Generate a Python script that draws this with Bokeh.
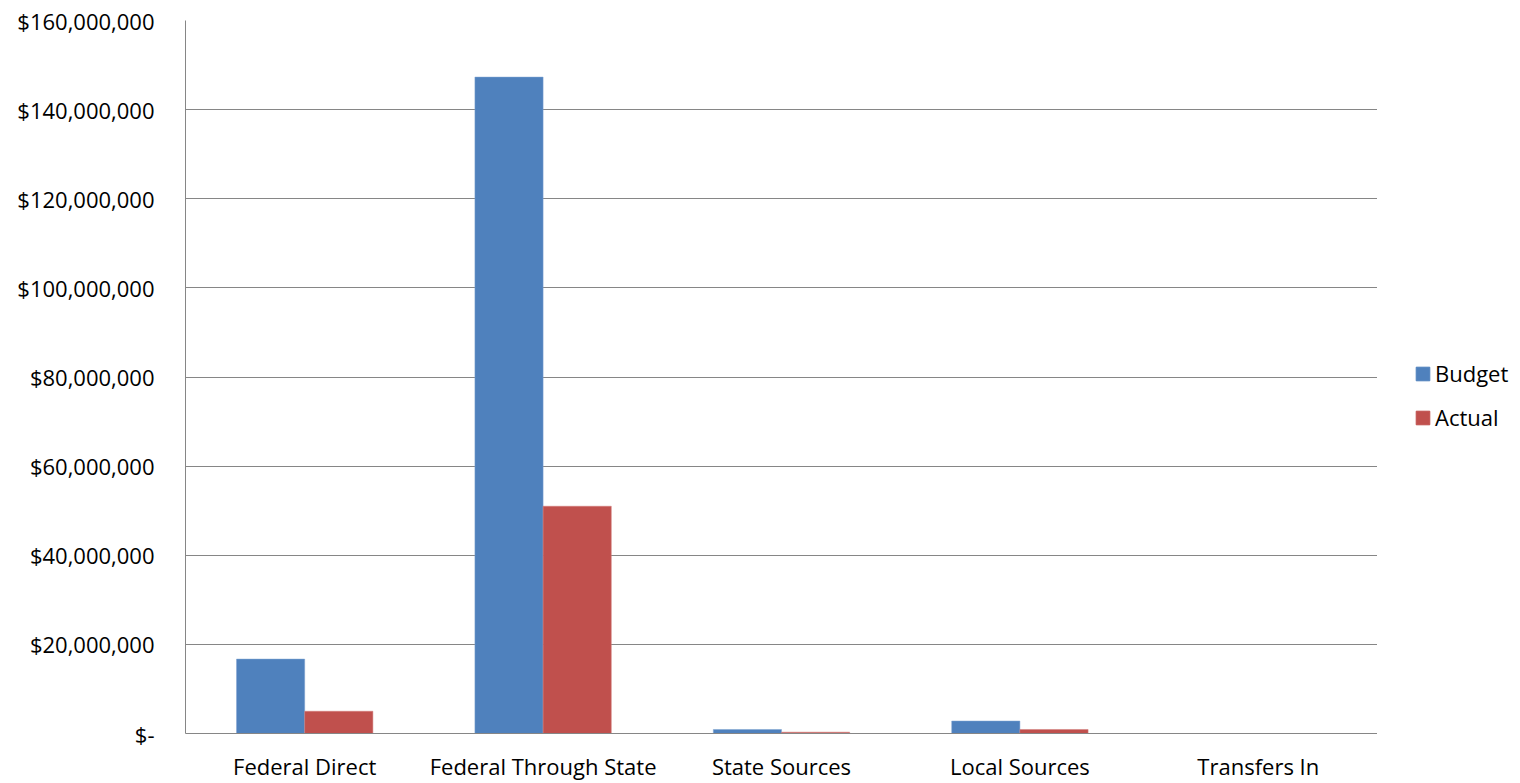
from bokeh.plotting import figure
from bokeh.layouts import row
from bokeh.models import ColumnDataSource, FactorRange, Legend, LegendItem, CustomJSTickFormatter, FixedTicker, Range1d
from bokeh.transform import dodge
from bokeh.embed import file_html
from bokeh.resources import INLINE

categories = ["Federal Direct", "Federal Through State", "State Sources", "Local Sources", "Transfers In"]
budget = [16700000, 147300000, 900000, 2800000, 0]
actual = [5000000, 51000000, 300000, 900000, 0]
y_ticks = [0, 20000000, 40000000, 60000000, 80000000, 100000000, 120000000, 140000000, 160000000]
series_names = ["Budget", "Actual"]
series_colors = ["#4F81BD", "#C0504D"]

FONT = "Open Sans"
src = ColumnDataSource(dict(cat=categories, budget=budget, actual=actual))

p = figure(x_range=FactorRange(*categories, range_padding=0), y_range=Range1d(0, 160000000),
           width=1377, height=783, output_backend="svg", toolbar_location=None,
           min_border_left=185, min_border_right=0, min_border_top=20, min_border_bottom=49)
p.outline_line_color = None
p.background_fill_color = "white"

bw = 0.286
p.vbar(x=dodge("cat", -bw / 2, range=p.x_range), top="budget", width=bw, source=src,
       fill_color=series_colors[0], line_color="#7FA3D0", line_width=0.5)
p.vbar(x=dodge("cat", bw / 2, range=p.x_range), top="actual", width=bw, source=src,
       fill_color=series_colors[1], line_color="#D07C7A", line_width=0.5)

p.xgrid.grid_line_color = None
p.ygrid.grid_line_color = "#868686"
p.ygrid.grid_line_width = 1
p.yaxis.ticker = FixedTicker(ticks=y_ticks)
p.yaxis.formatter = CustomJSTickFormatter(code="""
if (tick == 0) { return '$-'; }
return '$' + Math.round(tick).toString().replace(/\\B(?=(\\d{3})+(?!\\d))/g, ',');
""")
for ax in (p.xaxis, p.yaxis):
    ax.axis_line_color = "#868686"
    ax.axis_line_width = 1
    ax.major_tick_line_color = None
    ax.minor_tick_line_color = None
    ax.major_label_text_font = FONT
    ax.major_label_text_font_size = "22px"
    ax.major_label_text_color = "black"
p.yaxis.major_label_standoff = 25
p.xaxis.major_label_standoff = 11

# legend panel (proxy glyphs sit outside this panel's visible range)
q = figure(x_range=Range1d(0, 1), y_range=Range1d(0, 1), width=143, height=783,
           output_backend="svg", toolbar_location=None, min_border=0)
q.axis.visible = False
q.grid.visible = False
q.outline_line_color = None
items = []
for name, col in zip(series_names, series_colors):
    r = q.vbar(x=[5], top=[5], bottom=[4], width=0.1, fill_color=col, line_color=col)
    items.append(LegendItem(label=name, renderers=[r]))
legend = Legend(items=items, location=(37, 301), background_fill_alpha=0, border_line_color=None,
                label_text_font=FONT, label_text_font_size="22px", label_text_color="black",
                glyph_width=17, glyph_height=17,
                spacing=14, label_standoff=4, padding=0, margin=0)
q.add_layout(legend, "center")

layout = row(p, q)
open("out.html", "w").write(file_html(layout, INLINE))
